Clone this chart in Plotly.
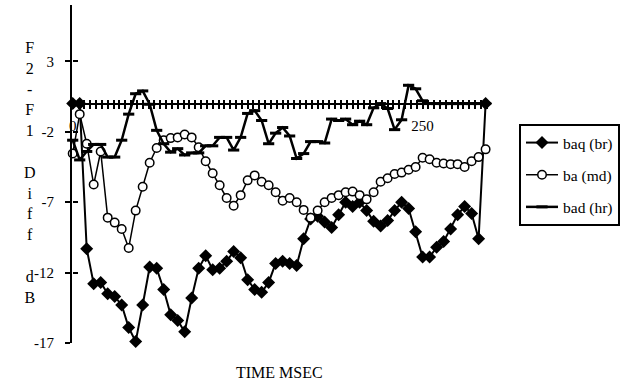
import plotly.graph_objects as go

# time axis (ms), one sample every 5 ms
time_ms = [i * 5 for i in range(60)]

baq_br = [0, 0, -10.3, -12.8, -12.7, -13.5, -13.7, -14.3, -15.9, -16.9,
          -14.3, -11.6, -11.7, -13.2, -15.0, -15.4, -16.2, -13.8, -11.7, -10.8,
          -11.8, -11.7, -11.2, -10.5, -10.95, -12.5, -13.2, -13.4, -12.7, -11.35,
          -11.2, -11.35, -11.5, -9.6, -8.2, -8.0, -8.4, -8.8, -7.9, -7.0,
          -7.3, -7.0, -7.6, -8.35, -8.7, -8.3, -7.6, -7.0, -7.45, -9.1,
          -10.9, -10.9, -10.2, -9.8, -8.9, -7.9, -7.3, -7.8, -9.6, 0]

ba_md = [-3.55, -0.75, -2.85, -5.75, -3.4, -8.1, -8.45, -8.9, -10.25, -7.6,
         -5.9, -4.2, -3.15, -2.6, -2.45, -2.4, -2.2, -2.4, -3.1, -4.1,
         -4.95, -5.8, -6.7, -7.25, -6.5, -5.45, -5.1, -5.55, -5.8, -6.3,
         -6.9, -6.7, -7.0, -7.55, -8.1, -7.6, -7.0, -6.7, -6.5, -6.3,
         -6.25, -6.5, -6.8, -6.3, -5.55, -5.3, -5.0, -4.9, -4.7, -4.5,
         -3.85, -3.95, -4.2, -4.25, -4.3, -4.3, -4.5, -4.1, -3.8, -3.25]

bad_hr = [-2.6, -4.0, -3.4, -2.9, -2.9, -3.8, -3.8, -2.6, -0.75, 0.7,
          0.9, -0.05, -1.9, -2.85, -3.45, -3.2, -3.65, -3.5, -3.5, -3.0,
          -3.0, -2.4, -2.4, -3.3, -2.4, -0.7, -0.5, -1.2, -2.85, -2.1,
          -1.7, -2.3, -3.9, -3.55, -2.7, -2.7, -2.8, -1.1, -1.2, -1.1,
          -1.5, -1.25, -1.5, -0.3, 0.0, -0.35, -1.85, -1.15, 1.3, 1.05,
          0.2, 0, 0, 0, 0, 0, 0, 0, 0, 0]

y_ticks = [3, -2, -7, -12, -17]
y_ticktext = ["3", "-2", "-7", "-12", "-17"]
x_tick_step = 250 / 60
x_ticks = [i * x_tick_step for i in range(72)]
x_ticktext = ["0" if i == 0 else ("250" if i == 60 else "") for i in range(72)]

x_range = [-0.5, 296]
y_range = [-17, 7]
zero_pos = (0 - y_range[0]) / (y_range[1] - y_range[0])

FONT = "Liberation Serif"

fig = go.Figure()
fig.add_trace(go.Scatter(
    x=time_ms, y=baq_br, name="baq (br)", mode="lines+markers", legendgroup="a",
    line=dict(color="black", width=2),
    marker=dict(symbol="diamond", size=10, color="black"),
    cliponaxis=False))
fig.add_trace(go.Scatter(
    x=time_ms, y=ba_md, name="ba (md)", mode="lines+markers", legendgroup="b",
    line=dict(color="black", width=1.5),
    marker=dict(symbol="circle", size=8.5, color="white",
                line=dict(color="black", width=1.5)),
    cliponaxis=False))
fig.add_trace(go.Scatter(
    x=time_ms, y=bad_hr, name="bad (hr)", mode="lines+markers", legendgroup="c",
    line=dict(color="black", width=2.5),
    marker=dict(symbol="line-ew", size=8, line=dict(color="black", width=3)),
    cliponaxis=False))
# empty trace to carry the overlaid axes (inner half of the crossing ticks)
fig.add_trace(go.Scatter(x=[], y=[], xaxis="x2", yaxis="y2", showlegend=False))

fig.update_layout(
    width=625, height=381,
    margin=dict(l=72, r=138, t=5, b=38),
    paper_bgcolor="white", plot_bgcolor="white",
    font=dict(family=FONT, size=15, color="black"),
    showlegend=True,
    legend=dict(
        xref="container", yref="container",
        x=519 / 625, y=1 - 124 / 381, xanchor="left", yanchor="top",
        bordercolor="black", borderwidth=2, bgcolor="white",
        font=dict(family=FONT, size=15.5, color="black"),
        tracegroupgap=9, traceorder="grouped", itemwidth=32,
    ),
    xaxis=dict(
        range=x_range, anchor="free", position=zero_pos,
        showline=True, linecolor="black", linewidth=2,
        tickmode="array", tickvals=x_ticks, ticktext=x_ticktext,
        ticks="outside", ticklen=4, tickwidth=2, tickcolor="black",
        ticklabelstandoff=4,
        showgrid=False, zeroline=False,
        tickfont=dict(family=FONT, size=15),
    ),
    xaxis2=dict(
        range=x_range, overlaying="x", anchor="free", position=zero_pos,
        showline=False, tickmode="array", tickvals=x_ticks,
        ticks="inside", ticklen=4, tickwidth=2, tickcolor="black",
        showticklabels=False, showgrid=False, zeroline=False,
    ),
    yaxis=dict(
        range=y_range, showline=True, linecolor="black", linewidth=2,
        tickmode="array", tickvals=y_ticks, ticktext=y_ticktext,
        ticks="outside", ticklen=5, tickwidth=2, tickcolor="black",
        ticklabelstandoff=8,
        showgrid=False, zeroline=False,
        tickfont=dict(family=FONT, size=15),
    ),
    yaxis2=dict(
        range=y_range, overlaying="y", anchor="free", position=0, side="left",
        showline=False, tickmode="array", tickvals=y_ticks,
        ticks="inside", ticklen=5, tickwidth=2, tickcolor="black",
        showticklabels=False, showgrid=False, zeroline=False,
    ),
    annotations=[
        dict(text="F<br>2<br>-<br>F<br>1<br><br>D<br>i<br>f<br>f<br><br>d<br>B",
             xref="paper", yref="paper",
             x=(30 - 72) / 415, y=(343 - 172) / 338,
             xanchor="center", yanchor="middle", showarrow=False,
             align="center", font=dict(family=FONT, size=16)),
        dict(text="TIME MSEC", xref="paper", yref="paper",
             x=(279 - 72) / 415, y=(343 - 372) / 338,
             xanchor="center", yanchor="middle", showarrow=False,
             font=dict(family=FONT, size=16)),
    ],
)

fig.write_html("out.html", config={"displayModeBar": False},
               post_script="document.body.style.margin='0';")
